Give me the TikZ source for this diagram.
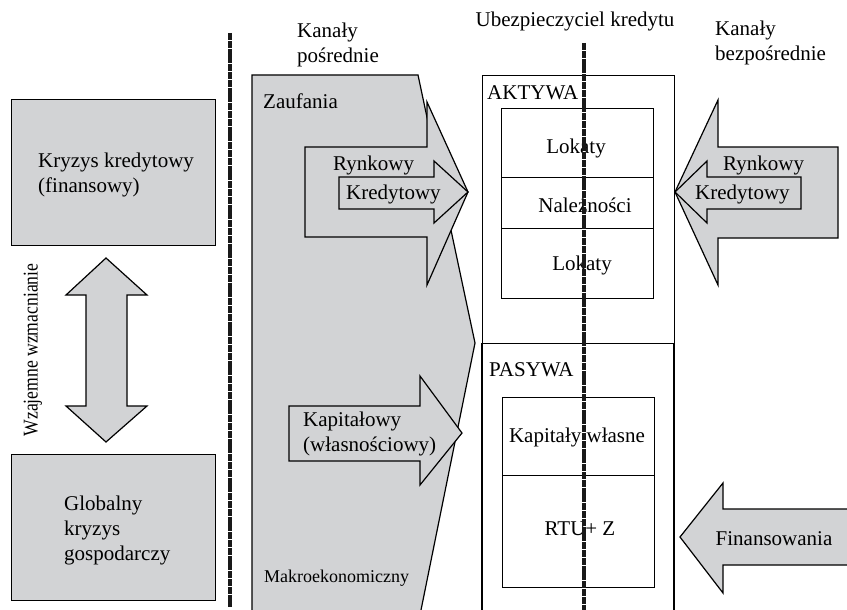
\documentclass[tikz,border=0pt]{standalone}
\usepackage{fontspec}
\setmainfont{Liberation Serif}
\definecolor{boxgray}{RGB}{210,211,213}
\begin{document}
\begin{tikzpicture}[x=1pt,y=-1pt,
  graybox/.style={draw=black,line width=1.2pt,fill=boxgray},
  garrow/.style={draw=black,line width=1.2pt,fill=boxgray,line join=miter},
  wbox/.style={draw=black,line width=1.2pt,fill=white},
  txt/.style={font=\fontsize{21}{25}\selectfont,inner sep=0pt},
  ltxt/.style={txt,anchor=west,align=left},
  divider/.style={line width=3.5pt,black!90,dash pattern=on 7pt off 0.8pt}
]
\useasboundingbox (0,0) rectangle (847,610);
\fill[white] (0,0) rectangle (847,610);

% left column
\node[graybox,minimum width=204pt,minimum height=146pt,anchor=north west] (kryzys) at (11,99) {};
\node[ltxt] (kryzyst) at (38,175) {Kryzys kredytowy\\(finansowy)};
\node[graybox,minimum width=204pt,minimum height=146pt,anchor=north west] (glob) at (11,454) {};
\node[ltxt] (globt) at (64,530) {Globalny\\kryzys\\gospodarczy};
\draw[garrow] (106,258) -- (147,295) -- (127,295) -- (127,406) -- (147,406) -- (106,442)
  -- (66,406) -- (86,406) -- (86,295) -- (66,295) -- cycle;
\node[txt,rotate=90,font=\fontsize{21}{25}\selectfont] (wzaj) at (33,350) {\scalebox{0.84}[1]{Wzajemne wzmacnianie}};

% left divider
\coordinate (d1a) at (230,33);
\coordinate (d1b) at (230,607);
\draw[divider] (d1a) -- (d1b);

% indirect channels
\node[ltxt] (kp) at (297,45) {Kanały\\pośrednie};
\draw[graybox] (252,75) -- (418,75) -- (475,343) -- (420,615) -- (252,615) -- cycle;
\draw[garrow] (305,147) -- (427,147) -- (427,102) -- (468,192) -- (427,285) -- (427,237) -- (305,237) -- cycle;
\draw[garrow] (339,177) -- (434,177) -- (434,161) -- (468,192) -- (434,223) -- (434,209) -- (339,209) -- cycle;
\draw[garrow] (289,406) -- (420,406) -- (420,376) -- (462,433) -- (420,485) -- (420,461) -- (289,461) -- cycle;
\node[ltxt] (zauf) at (263,101) {Zaufania};
\node[ltxt] (ryn1) at (333,165) {Rynkowy};
\node[ltxt] (kre1) at (346,194) {Kredytowy};
\node[ltxt] (kap) at (303,434) {Kapitałowy\\(własnościowy)};
\node[txt,anchor=west,font=\fontsize{18}{22}\selectfont] (makro) at (264,578) {Makroekonomiczny};

% insurer
\node[txt] (ubez) at (575,21) {Ubezpieczyciel kredytu};
\node[wbox,minimum width=192pt,minimum height=268pt,anchor=north west] (akt) at (482,75) {};
\draw[line width=1.2pt] (482,343) -- (482,615);
\draw[line width=1.2pt] (674,343) -- (674,615);
\node[ltxt] (aktt) at (487,93) {AKTYWA};
\node[ltxt] (pasy) at (489,370) {PASYWA};
\node[wbox,minimum width=152pt,minimum height=69pt,anchor=north west] (lok1) at (501,108) {};
\node[wbox,minimum width=152pt,minimum height=51pt,anchor=north west] (nal) at (501,177) {};
\node[wbox,minimum width=152pt,minimum height=70pt,anchor=north west] (lok2) at (501,228) {};
\node[wbox,minimum width=152pt,minimum height=78pt,anchor=north west] (kw) at (502,397) {};
\node[wbox,minimum width=152pt,minimum height=112pt,anchor=north west] (rtu) at (502,475) {};
\node[txt] (lok1t) at (576,148) {Lokaty};
\node[txt] (nalt) at (585,205) {Należności};
\node[txt] (lok2t) at (582,265) {Lokaty};
\node[txt] (kwt) at (577,437) {Kapitały własne};
\node[txt] (rtut) at (580,529) {RTU+ Z};

% right divider
\coordinate (d2a) at (584,43);
\coordinate (d2b) at (584,610);
\draw[divider] (d2a) -- (d2b);

% direct channels
\node[ltxt] (kb) at (715,43) {Kanały\\bezpośrednie};
\draw[garrow] (838,147) -- (718,147) -- (718,100) -- (675,192) -- (718,285) -- (718,238) -- (838,238) -- cycle;
\draw[garrow] (801,177) -- (707,177) -- (707,161) -- (675,192) -- (707,223) -- (707,209) -- (801,209) -- cycle;
\draw[garrow] (850,509) -- (723,509) -- (723,483) -- (680,537) -- (723,593) -- (723,565) -- (850,565);
\fill[boxgray] (848,510) rectangle (850,564);
\node[ltxt] (ryn2) at (723,165) {Rynkowy};
\node[ltxt] (kre2) at (695,194) {Kredytowy};
\node[txt] (fin) at (774,539) {Finansowania};
\end{tikzpicture}
\end{document}
